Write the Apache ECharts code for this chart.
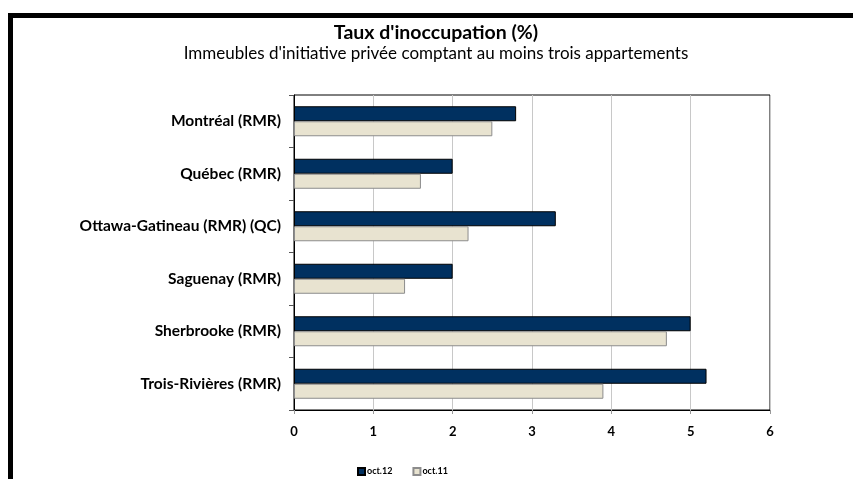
<!DOCTYPE html>
<html>
<head>
<meta charset="utf-8">
<title>Taux d'inoccupation</title>
<script src="https://cdn.jsdelivr.net/npm/echarts@6/dist/echarts.min.js"></script>
<style>
  html, body { margin: 0; padding: 0; background: #fff; }
  #container { width: 853px; height: 479px; }
</style>
</head>
<body>
<div id="container"></div>
<script type="text/javascript">
// donnees
var categories = ['Montréal (RMR)', 'Québec (RMR)', 'Ottawa-Gatineau (RMR) (QC)', 'Saguenay (RMR)', 'Sherbrooke (RMR)', 'Trois-Rivières (RMR)'];
var oct12 = [2.8, 2.0, 3.3, 2.0, 5.0, 5.2];
var oct11 = [2.5, 1.6, 2.2, 1.4, 4.7, 3.9];
var xTicks = [0, 1, 2, 3, 4, 5, 6];

var font = 'Lato';
var dom = document.getElementById('container');
var myChart = echarts.init(dom);

var option = {
    animation: false,
    textStyle: { fontFamily: font },
    title: {
        text: "Taux d'inoccupation (%)",
        subtext: "Immeubles d'initiative privée comptant au moins trois appartements",
        left: 431,
        textAlign: 'center',
        top: 18,
        itemGap: 2,
        textStyle: { fontFamily: font, fontSize: 19.5, fontWeight: 'bold', color: '#000' },
        subtextStyle: { fontFamily: font, fontSize: 17, color: '#000' }
    },
    legend: {
        data: ['oct.12', 'oct.11'],
        left: 352,
        top: 462,
        itemWidth: 7,
        itemHeight: 7,
        itemGap: 20,
        icon: 'rect',
        textStyle: { fontFamily: font, fontSize: 9, fontWeight: 'bold', color: '#000', padding: [0, 0, 0, -3] }
    },
    grid: {
        left: 294,
        right: 83,
        top: 95,
        bottom: 69,
        show: true,
        borderColor: '#000',
        borderWidth: 1
    },
    xAxis: {
        type: 'value',
        min: 0,
        max: 6,
        interval: 1,
        axisLine: { show: true, lineStyle: { color: '#000' } },
        axisTick: { show: true, length: 4, lineStyle: { color: '#999' } },
        axisLabel: {
            margin: 15,
            fontFamily: font, fontSize: 13, fontWeight: 'bold', color: '#000',
            formatter: function (v) { return xTicks.indexOf(v) >= 0 ? String(v) : ''; }
        },
        splitLine: { show: true, lineStyle: { color: '#c8c8c8' } }
    },
    yAxis: {
        type: 'category',
        inverse: true,
        data: categories,
        axisLine: { show: true, lineStyle: { color: '#000' } },
        axisTick: { show: true, length: 5, lineStyle: { color: '#555' } },
        axisLabel: { margin: 13, fontFamily: font, fontSize: 15.5, fontWeight: 'bold', color: '#000' }
    },
    series: [
        {
            name: 'oct.12',
            type: 'bar',
            data: oct12,
            barWidth: 15,
            barGap: '0%',
            itemStyle: { color: '#003060', borderColor: '#000', borderWidth: 1 }
        },
        {
            name: 'oct.11',
            type: 'bar',
            data: oct11,
            barWidth: 15,
            itemStyle: { color: '#e8e3d0', borderColor: '#8c8c8c', borderWidth: 1 }
        }
    ],
    graphic: [
        { type: 'rect', shape: { x: 8, y: 13, width: 845, height: 5 }, style: { fill: '#000' } },
        { type: 'rect', shape: { x: 8, y: 13, width: 5, height: 466 }, style: { fill: '#000' } }
    ]
};

myChart.setOption(option, true);
</script>
</body>
</html>
